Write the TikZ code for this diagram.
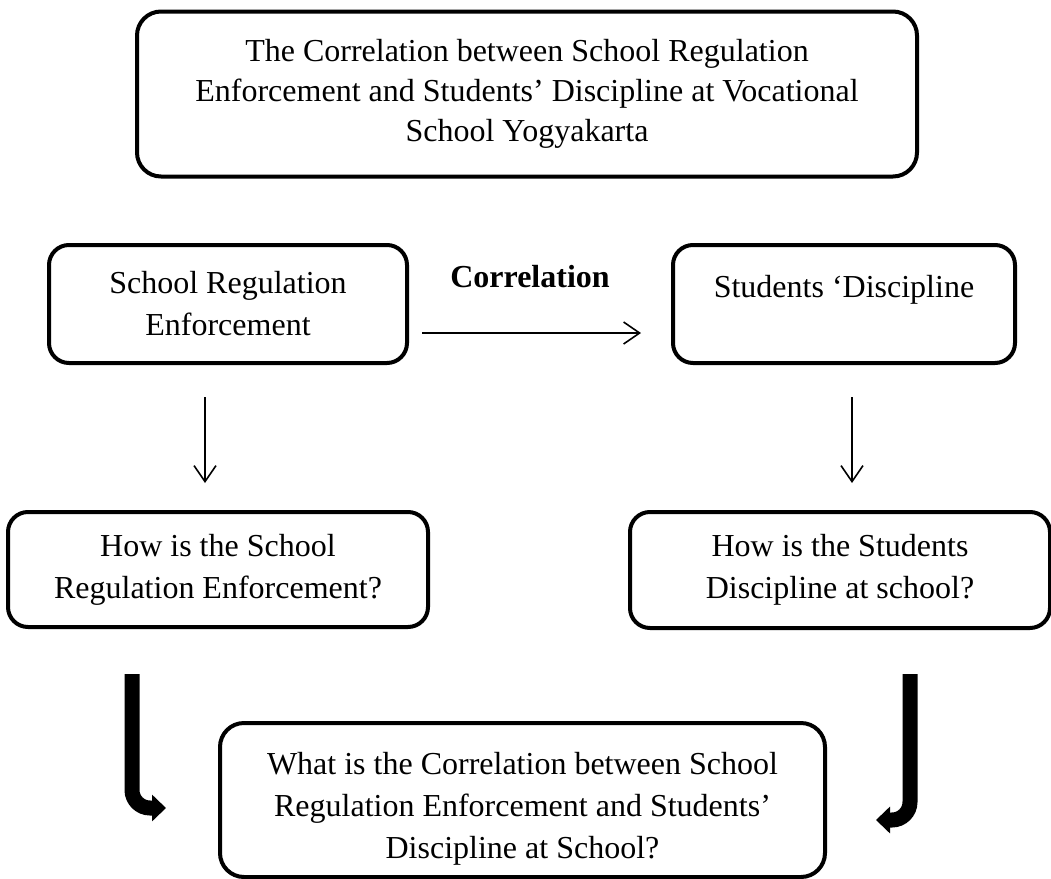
\documentclass[tikz,border=0pt]{standalone}
\usepackage{fontspec}
\setmainfont{Liberation Serif}
\usetikzlibrary{arrows.meta}
\begin{document}
\begin{tikzpicture}[
x=0.5pt, y=-0.5pt,
txt/.style={align=center, inner sep=0pt, font=\fontsize{16}{21}\selectfont},
box/.style={txt, rectangle, rounded corners=10pt, draw=black, line width=2pt},
thin/.style={-{Straight Barb[length=8pt,width=11pt]}, line width=0.8pt},
bent/.style={-{Triangle[length=7pt,width=13pt]}, line width=7.5pt, rounded corners=9pt},
]
\useasboundingbox (0,0) rectangle (1051,879);
\node (title) [box, rounded corners=12pt, minimum width=390pt, minimum height=82.5pt, font=\fontsize{16}{20}\selectfont] at (527,94)
	{The Correlation between School Regulation\\ Enforcement and Students’ Discipline at Vocational\\ School Yogyakarta};
\node (sre) [box, minimum width=179pt, minimum height=59pt] at (228,304) {School Regulation\\ Enforcement};
\node (sd) [box, minimum width=171pt, minimum height=59pt] [label={[txt, yshift=7pt]center:Students ‘Discipline}] at (844,304) {};
\node (corr) [font=\fontsize{16}{21}\selectfont\bfseries] at (530,277) {Correlation};
\node (qsre) [box, minimum width=210pt, minimum height=57.5pt] at (218,569.5) {How is the School\\ Regulation Enforcement?};
\node (qsd) [box, minimum width=210pt, minimum height=58pt] at (840,570) {How is the Students\\ Discipline at school?};
\node (qcor) [box, rounded corners=12pt, minimum width=302.5pt, minimum height=77pt]
	[label={[txt, yshift=-4.5pt]center:{What is the Correlation between School\\ Regulation Enforcement and Students’\\ Discipline at School?}}] at (522.5,800) {};
% thin arrows
\draw[thin] ([shift={(13,29)}]sre.east) -- ([shift={(-30,29)}]sd.west);
\draw[thin] ([shift={(-23,32)}]sre.south) -- ([shift={(-13,-27)}]qsre.north);
\draw[thin] ([shift={(8,32)}]sd.south) -- ([shift={(12,-27)}]qsd.north);
% bent arrows
\draw[bent] ([shift={(-86,45)}]qsre.south) |- ([shift={(-52,8)}]qcor.west);
\draw[bent] ([shift={(70,44)}]qsd.south) |- ([shift={(49,20)}]qcor.east);
\end{tikzpicture}
\end{document}
